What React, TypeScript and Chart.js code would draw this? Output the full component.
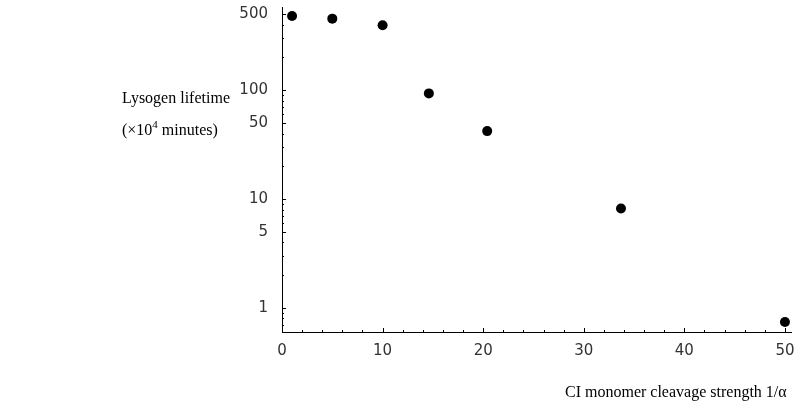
import { useEffect, useRef } from 'react';
import { Chart, registerables } from 'chart.js';

Chart.register(...registerables);

// Cleavage strength 1/α and the resulting lysogen lifetime (×10^4 minutes)
const cleavageStrength = [1, 5, 10, 14.6, 20.4, 33.7, 50];
const lysogenLifetime = [481, 455, 396, 93.5, 42.1, 8.2, 0.74];

// Labelled tick values on each axis
const xTickLabels = [0, 10, 20, 30, 40, 50];
const yTickLabels = [1, 5, 10, 50, 100, 500];

const X_MIN = 0;
const X_MAX = 50.6;
const Y_MIN = 0.634;
const Y_MAX = 582;

const TICK_FONT = { family: '"DejaVu Sans", sans-serif', size: 15 };
const TITLE_FONT = '16px "Liberation Serif", "Times New Roman", serif';

// Tick marks drawn inward from the axis lines, longer at labelled values
const inwardTicks = {
  id: 'inwardTicks',
  afterDatasetsDraw(chart: any) {
    const { ctx, chartArea, scales } = chart;
    ctx.save();
    ctx.strokeStyle = '#000';
    ctx.lineWidth = 1;
    ctx.beginPath();
    for (const t of scales.x.ticks) {
      const px = Math.round(scales.x.getPixelForValue(t.value)) + 0.5;
      const len = xTickLabels.includes(t.value) ? 4 : 2;
      ctx.moveTo(px, chartArea.bottom);
      ctx.lineTo(px, chartArea.bottom - len);
    }
    for (const t of scales.y.ticks) {
      const py = Math.round(scales.y.getPixelForValue(t.value)) + 0.5;
      const len = yTickLabels.includes(t.value) ? 4 : 2;
      ctx.moveTo(chartArea.left, py);
      ctx.lineTo(chartArea.left + len, py);
    }
    ctx.stroke();
    ctx.restore();
  },
};

function App() {
  const canvasRef = useRef<HTMLCanvasElement | null>(null);

  useEffect(() => {
    if (!canvasRef.current) return;
    const points = cleavageStrength.map((x, i) => ({ x, y: lysogenLifetime[i] }));

    const chart = new Chart(canvasRef.current, {
      type: 'scatter',
      data: {
        datasets: [
          {
            data: points,
            backgroundColor: '#000',
            borderColor: '#000',
            pointRadius: 5,
            pointHoverRadius: 5,
            borderWidth: 0,
          },
        ],
      },
      options: {
        responsive: false,
        animation: false,
        events: [],
        layout: { padding: { left: 0, top: 7, right: 11, bottom: 0 }, autoPadding: false },
        plugins: { legend: { display: false }, tooltip: { enabled: false } },
        scales: {
          x: {
            type: 'linear',
            min: X_MIN,
            max: X_MAX,
            afterBuildTicks(scale: any) {
              const ticks = [];
              for (let v = 0; v <= 50; v += 2) ticks.push({ value: v });
              scale.ticks = ticks;
            },
            afterFit(scale: any) {
              scale.height = 83;
              scale.paddingLeft = 0;
              scale.paddingRight = 0;
            },
            ticks: {
              autoSkip: false,
              maxRotation: 0,
              padding: 10,
              color: '#333',
              font: TICK_FONT,
              callback: (v: any) => (xTickLabels.includes(Number(v)) ? String(v) : ''),
            },
            grid: { display: false, drawTicks: false },
            border: { display: true, color: '#000', width: 1 },
          },
          y: {
            type: 'logarithmic',
            min: Y_MIN,
            max: Y_MAX,
            afterBuildTicks(scale: any) {
              const ticks = [];
              for (let e = -1; e <= 2; e++) {
                for (let k = 1; k <= 9; k++) {
                  const v = Number((k * Math.pow(10, e)).toPrecision(3));
                  if (v >= Y_MIN && v <= Y_MAX) ticks.push({ value: v });
                }
              }
              scale.ticks = ticks;
            },
            afterFit(scale: any) {
              scale.width = 282;
              scale.paddingTop = 0;
              scale.paddingBottom = 0;
            },
            ticks: {
              autoSkip: false,
              padding: 14,
              color: '#333',
              font: TICK_FONT,
              callback: (v: any) => (yTickLabels.includes(Number(v)) ? String(v) : ''),
            },
            grid: { display: false, drawTicks: false },
            border: { display: true, color: '#000', width: 1 },
          },
        },
      },
      plugins: [inwardTicks],
    });

    return () => chart.destroy();
  }, []);

  return (
    <div style={{ position: 'fixed', left: 0, top: 0, width: 802, height: 415, background: '#fff' }}>
      <canvas ref={canvasRef} width={802} height={415} style={{ display: 'block' }} />
      <div style={{ position: 'absolute', left: 122, top: 88, font: TITLE_FONT, color: '#000', whiteSpace: 'nowrap', lineHeight: '20px' }}>
        Lysogen lifetime
      </div>
      <div style={{ position: 'absolute', left: 122, top: 120, font: TITLE_FONT, color: '#000', whiteSpace: 'nowrap', lineHeight: '20px' }}>
        (×10<span style={{ fontSize: '11px', position: 'relative', top: '-7px' }}>4</span> minutes)
      </div>
      <div style={{ position: 'absolute', left: 565, top: 382, font: TITLE_FONT, color: '#000', whiteSpace: 'nowrap', lineHeight: '20px' }}>
        CI monomer cleavage strength 1/α
      </div>
    </div>
  );
}

export default App;
